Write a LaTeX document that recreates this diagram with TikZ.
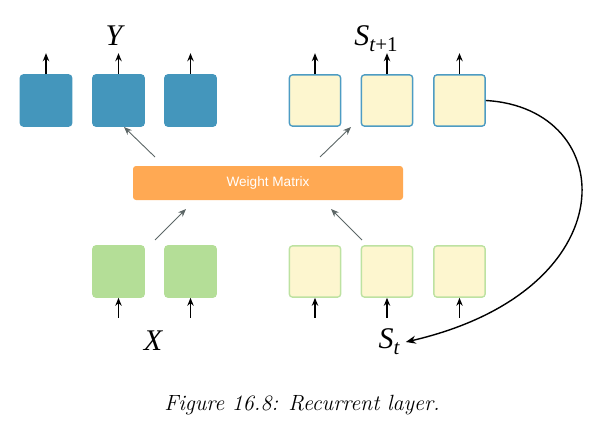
\documentclass[tikz,border=0pt]{standalone}
\usepackage{fontspec}
\newfontfamily\wmfont{Liberation Sans}
\newfontfamily\lblfont{Liberation Serif}
\usetikzlibrary{arrows.meta}
\definecolor{bluefill}{HTML}{4496BC}
\definecolor{blueline}{HTML}{4D9CC3}
\definecolor{yelfill}{HTML}{FDF6CF}
\definecolor{grnfill}{HTML}{B4DE97}
\definecolor{grnline}{HTML}{BDE2A1}
\definecolor{orng}{HTML}{FFA953}
\definecolor{grayarr}{HTML}{5C6666}
\newcommand{\subsc}[1]{\raisebox{-3pt}{\fontsize{10.5}{12}\selectfont #1}}
\tikzset{
  cell/.style={rectangle, rounded corners=1.5pt, minimum width=25.6pt, minimum height=25.6pt, inner sep=0pt, line width=0.7pt},
  bluecell/.style={cell, fill=bluefill, draw=bluefill},
  ytopcell/.style={cell, fill=yelfill, draw=blueline},
  greencell/.style={cell, fill=grnfill, draw=grnfill},
  ybotcell/.style={cell, fill=yelfill, draw=grnline},
  io/.style={-{Stealth[length=4pt,width=3.2pt]}, line width=0.65pt, black},
  wm/.style={-{Stealth[length=4pt,width=3.2pt]}, line width=0.45pt, grayarr},
  lbl/.style={inner sep=0pt, font=\lblfont\fontsize{15}{17}\selectfont\itshape}
}
\begin{document}
\begin{tikzpicture}[x=0.5pt,y=-0.5pt]
\useasboundingbox (0,0) rectangle (603,438);
% top row
\node[bluecell] (t1) at (46,100.5) {};
\node[bluecell] (t2) at (118.5,100.5) {};
\node[bluecell] (t3) at (190.5,100.5) {};
\node[ytopcell] (t4) at (315,100.5) {};
\node[ytopcell] (t5) at (387,100.5) {};
\node[ytopcell] (t6) at (459.5,100.5) {};
% weight matrix
\node[rectangle, rounded corners=1.5pt, fill=orng, minimum width=135pt, minimum height=17pt, inner sep=0pt, text=white, font=\wmfont\fontsize{6.8}{8}\selectfont] (W) at (268,183) {Weight Matrix};
% bottom row
\node[greencell] (b1) at (118.5,271.5) {};
\node[greencell] (b2) at (190.5,271.5) {};
\node[ybotcell] (b3) at (315,271.5) {};
\node[ybotcell] (b4) at (387,271.5) {};
\node[ybotcell] (b5) at (459.5,271.5) {};
% labels
\node[lbl] (Y) at (114,36) {Y};
\node[lbl] (S1) at (376,38.5) {S\subsc{t\upshape+1}};
\node[lbl] (X) at (153,341) {X};
\node[lbl] (St) at (389,342) {S\subsc{t}};
\node[inner sep=0pt, font=\fontsize{11}{13}\selectfont\itshape] (cap) at (302,405) {Figure 16.8: Recurrent layer.};
% output arrows
\foreach \n in {t1,t2,t3,t4,t5,t6}{
  \draw[io] (\n.north) -- ++(0,-21);
}
% input arrows
\foreach \n in {b1,b2,b3,b4,b5}{
  \draw[io] ([yshift=-10pt]\n.south) -- (\n.south);
}
% weight arrows
\coordinate (wa1) at (155,240);
\coordinate (wa2) at (362,240);
\coordinate (wb1) at (155,157);
\coordinate (wb2) at (320,157);
\draw[wm] (wa1) -- (186,209);
\draw[wm] (wa2) -- (331,209);
\draw[wm] (wb1) -- (124,127);
\draw[wm] (wb2) -- (351,127);
% recurrent curve
\draw[-{Stealth[length=5pt,width=4pt]}, line width=0.7pt] (t6.east) .. controls (620,108) and (630,290) .. ([xshift=3pt]St.east);
\end{tikzpicture}
\end{document}
